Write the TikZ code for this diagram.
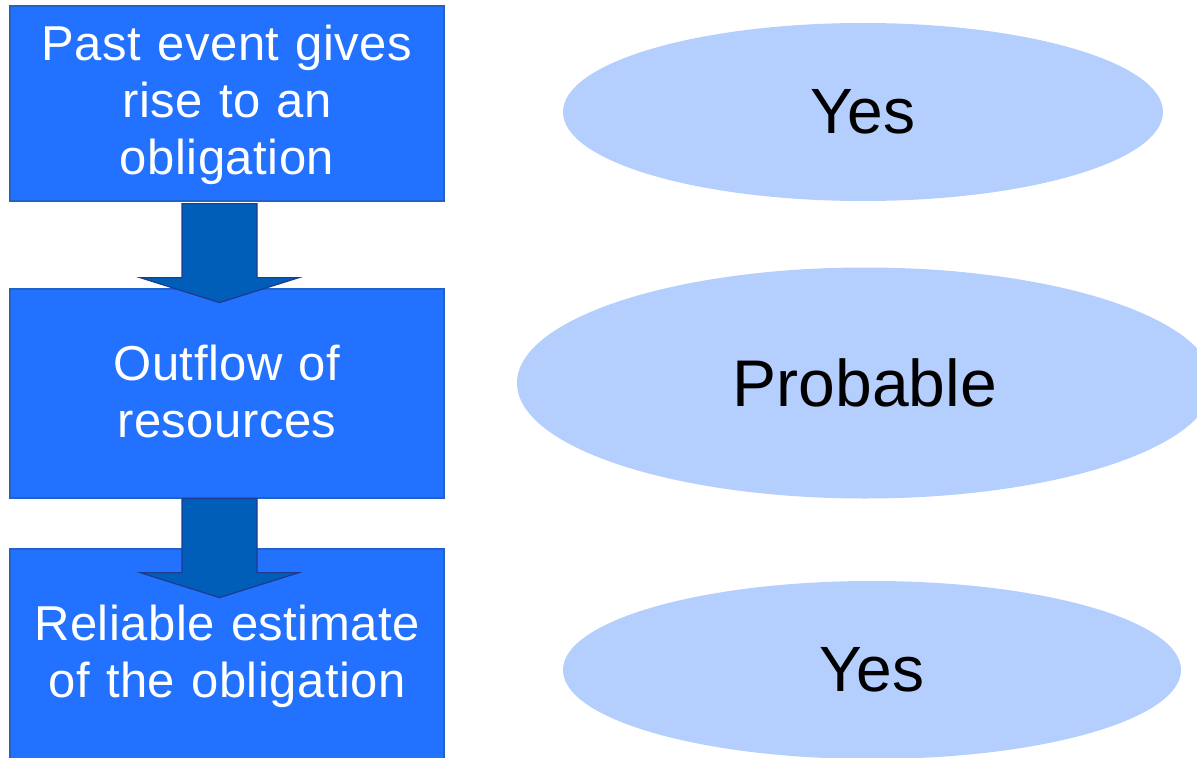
\documentclass[tikz,border=0pt]{standalone}
\usepackage{fontspec}
\setmainfont{Liberation Sans}
\newfontfamily\boxfont[LetterSpace=1,Ligatures=NoCommon]{Liberation Sans}
\usetikzlibrary{calc,shapes.geometric}
\definecolor{boxblue}{HTML}{2272FF}
\definecolor{boxedge}{HTML}{1F62C8}
\definecolor{arrowfill}{HTML}{005EB8}
\definecolor{arrowedge}{HTML}{1E3A90}
\definecolor{ellfill}{HTML}{B4CEFE}
\tikzset{
  stepbox/.style={rectangle, fill=boxblue, draw=boxedge, line width=1.2bp,
    minimum width=434bp, text width=430bp, text=white, align=center, inner sep=0pt,
    text height=0pt, font=\boxfont\fontsize{49bp}{57bp}\selectfont},
  answer/.style={ellipse, fill=ellfill, draw=none, inner sep=0pt, text=black},
  blockarrow/.style={fill=arrowfill, draw=arrowedge, line width=1.2bp, line join=miter}
}
\begin{document}
\begin{tikzpicture}[x=1bp,y=-1bp]
\useasboundingbox (0,0) rectangle (1197,758);
\node[stepbox, minimum height=195bp, text depth=86bp] (b1) at (227,103.5) {Past event gives\\rise to an\\obligation};
\node[stepbox, minimum height=209bp, text depth=26bp] (b2) at (227,393.5) {Outflow of\\resources};
\node[stepbox, minimum height=210bp, text depth=28bp] (b3) at (227,654) {Reliable estimate\\of the obligation};
% block arrows
\draw[blockarrow] ($(b1.south)+(-45,2)$) -- ($(b1.south)+(30,2)$) -- ($(b1.south)+(30,76)$)
  -- ($(b1.south)+(72,76)$) -- ($(b1.south)+(-7.5,101)$) -- ($(b1.south)+(-87,76)$)
  -- ($(b1.south)+(-45,76)$) -- cycle;
\draw[blockarrow] ($(b2.south)+(-45,0)$) -- ($(b2.south)+(30,0)$) -- ($(b2.south)+(30,74)$)
  -- ($(b2.south)+(72,74)$) -- ($(b2.south)+(-7.5,99)$) -- ($(b2.south)+(-87,74)$)
  -- ($(b2.south)+(-45,74)$) -- cycle;
% ellipses
\node[answer, minimum width=600bp, minimum height=178bp, font=\fontsize{64bp}{70bp}\selectfont] (e1) at (863,112) {Yes};
\node[answer, minimum width=696bp, minimum height=231bp, font=\fontsize{66bp}{72bp}\selectfont] (e2) at (865,383) {Probable};
\node[answer, minimum width=618bp, minimum height=178bp, font=\fontsize{64bp}{70bp}\selectfont] (e3) at (872,670) {Yes};
\end{tikzpicture}
\end{document}
